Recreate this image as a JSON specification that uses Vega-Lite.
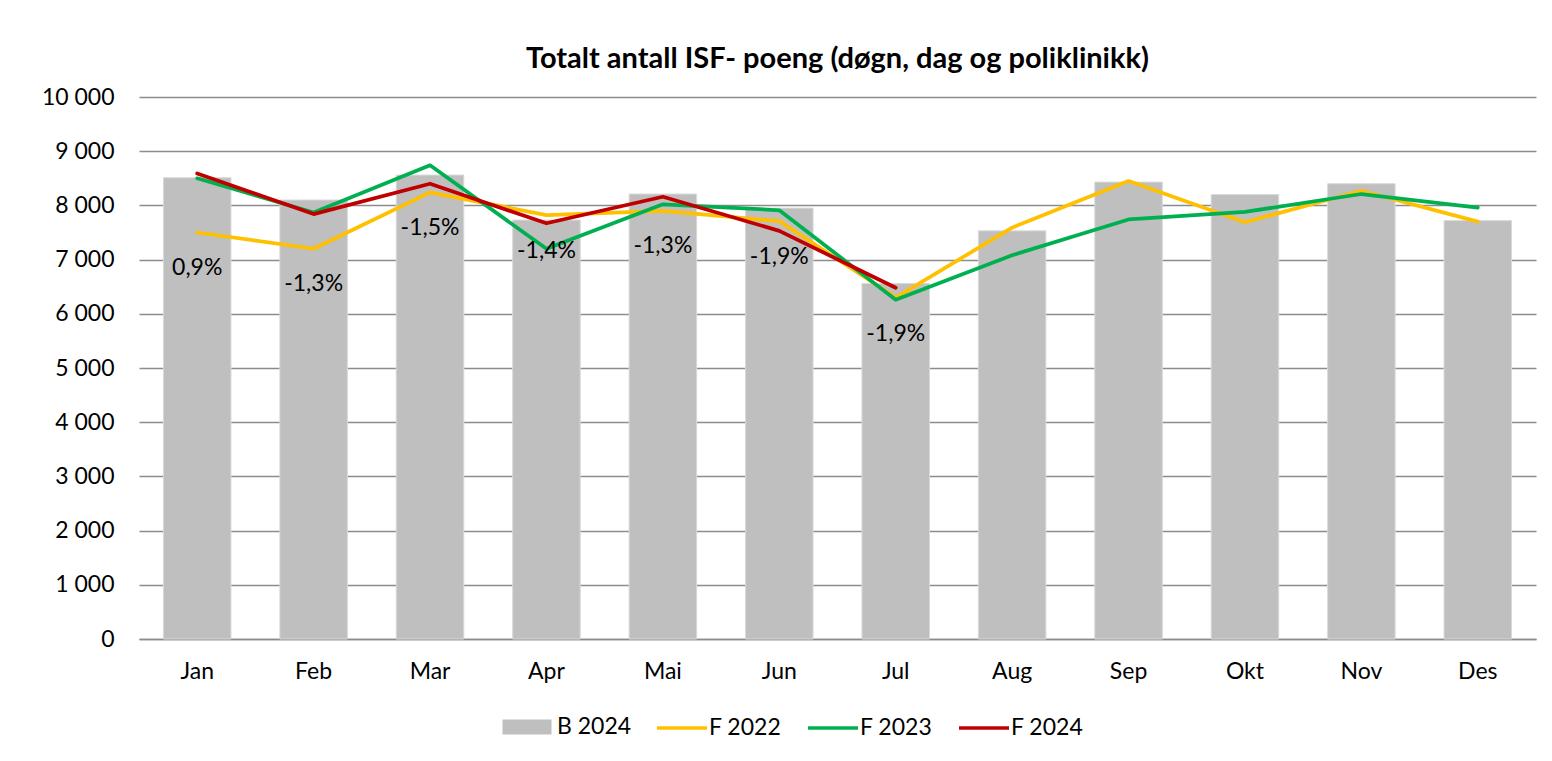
{
  "$schema": "https://vega.github.io/schema/vega-lite/v6.json",
  "autosize": "none",
  "width": 1397,
  "height": 542,
  "padding": {"left": 139, "top": 97, "right": 16, "bottom": 122},
  "background": "white",
  "config": {
    "font": "Lato",
    "view": {"stroke": null},
    "axis": {"labelFont": "Lato", "labelFontSize": 23, "labelColor": "#000"},
    "legend": {"labelFont": "Lato", "labelFontSize": 23, "labelColor": "#000", "padding": 0}
  },
  "title": {
    "text": "Totalt antall ISF- poeng (døgn, dag og poliklinikk)",
    "font": "Lato",
    "fontSize": 29,
    "fontWeight": "bold",
    "color": "#000",
    "anchor": "middle",
    "frame": "group",
    "offset": 12
  },
  "datasets": {
    "bars": [
      {"month": "Jan", "series": "B 2024", "value": 8510},
      {"month": "Feb", "series": "B 2024", "value": 8100},
      {"month": "Mar", "series": "B 2024", "value": 8560},
      {"month": "Apr", "series": "B 2024", "value": 7730},
      {"month": "Mai", "series": "B 2024", "value": 8210},
      {"month": "Jun", "series": "B 2024", "value": 7950},
      {"month": "Jul", "series": "B 2024", "value": 6560},
      {"month": "Aug", "series": "B 2024", "value": 7530},
      {"month": "Sep", "series": "B 2024", "value": 8430},
      {"month": "Okt", "series": "B 2024", "value": 8200},
      {"month": "Nov", "series": "B 2024", "value": 8400},
      {"month": "Des", "series": "B 2024", "value": 7720}
    ],
    "lines": [
      {"month": "Jan", "series": "F 2022", "value": 7500},
      {"month": "Feb", "series": "F 2022", "value": 7200},
      {"month": "Mar", "series": "F 2022", "value": 8240},
      {"month": "Apr", "series": "F 2022", "value": 7820},
      {"month": "Mai", "series": "F 2022", "value": 7900},
      {"month": "Jun", "series": "F 2022", "value": 7710},
      {"month": "Jul", "series": "F 2022", "value": 6300},
      {"month": "Aug", "series": "F 2022", "value": 7590},
      {"month": "Sep", "series": "F 2022", "value": 8450},
      {"month": "Okt", "series": "F 2022", "value": 7690},
      {"month": "Nov", "series": "F 2022", "value": 8270},
      {"month": "Des", "series": "F 2022", "value": 7700},
      {"month": "Jan", "series": "F 2023", "value": 8500},
      {"month": "Feb", "series": "F 2023", "value": 7870},
      {"month": "Mar", "series": "F 2023", "value": 8740},
      {"month": "Apr", "series": "F 2023", "value": 7200},
      {"month": "Mai", "series": "F 2023", "value": 8020},
      {"month": "Jun", "series": "F 2023", "value": 7910},
      {"month": "Jul", "series": "F 2023", "value": 6260},
      {"month": "Aug", "series": "F 2023", "value": 7080},
      {"month": "Sep", "series": "F 2023", "value": 7740},
      {"month": "Okt", "series": "F 2023", "value": 7880},
      {"month": "Nov", "series": "F 2023", "value": 8210},
      {"month": "Des", "series": "F 2023", "value": 7960},
      {"month": "Jan", "series": "F 2024", "value": 8590},
      {"month": "Feb", "series": "F 2024", "value": 7840},
      {"month": "Mar", "series": "F 2024", "value": 8400},
      {"month": "Apr", "series": "F 2024", "value": 7670},
      {"month": "Mai", "series": "F 2024", "value": 8160},
      {"month": "Jun", "series": "F 2024", "value": 7530},
      {"month": "Jul", "series": "F 2024", "value": 6480}
    ],
    "labels": [
      {"month": "Jan", "label": "0,9%", "pos": 6850},
      {"month": "Feb", "label": "-1,3%", "pos": 6550},
      {"month": "Mar", "label": "-1,5%", "pos": 7577},
      {"month": "Apr", "label": "-1,4%", "pos": 7159},
      {"month": "Mai", "label": "-1,3%", "pos": 7251},
      {"month": "Jun", "label": "-1,9%", "pos": 7054},
      {"month": "Jul", "label": "-1,9%", "pos": 5622}
    ]
  },
  "encoding": {
    "x": {
      "field": "month",
      "type": "nominal",
      "sort": ["Jan", "Feb", "Mar", "Apr", "Mai", "Jun", "Jul", "Aug", "Sep", "Okt", "Nov", "Des"],
      "scale": {"paddingInner": 0.42, "paddingOuter": 0.21},
      "axis": {
        "title": null,
        "labelAngle": 0,
        "ticks": false,
        "labelPadding": 21,
        "domainColor": "#8c8c8c",
        "domainWidth": 1.3,
        "grid": false
      }
    }
  },
  "layer": [
    {
      "data": {"name": "bars"},
      "mark": {"type": "bar", "stroke": "#d9d9d9", "strokeWidth": 1},
      "encoding": {
        "y": {
          "field": "value",
          "type": "quantitative",
          "scale": {"domain": [0, 10000], "nice": false},
          "axis": {
            "title": null,
            "values": [0, 1000, 2000, 3000, 4000, 5000, 6000, 7000, 8000, 9000, 10000],
            "labelExpr": "replace(format(datum.value, ','), /,/g, '  ')",
            "domain": false,
            "ticks": false,
            "labelPadding": 25,
            "gridColor": "#8c8c8c",
            "gridWidth": 1.3
          }
        },
        "fill": {
          "field": "series",
          "type": "nominal",
          "scale": {"domain": ["B 2024"], "range": ["#bfbfbf"]},
          "legend": {
            "orient": "none",
            "direction": "horizontal",
            "legendX": 363,
            "legendY": 605,
            "title": null,
            "labelOffset": 5,
            "symbolType": "M-0.98,-0.3H0.98V0.3H-0.98Z",
            "symbolSize": 2500,
            "symbolStrokeWidth": 0,
            "symbolOpacity": 1
          }
        }
      }
    },
    {
      "data": {"name": "lines"},
      "mark": {"type": "line", "strokeWidth": 3.75, "strokeCap": "round", "strokeJoin": "round"},
      "encoding": {
        "y": {"field": "value", "type": "quantitative"},
        "stroke": {
          "field": "series",
          "type": "nominal",
          "scale": {"domain": ["F 2022", "F 2023", "F 2024"], "range": ["#ffc000", "#00b050", "#c00000"]},
          "legend": {
            "orient": "none",
            "direction": "horizontal",
            "legendX": 516,
            "legendY": 604,
            "title": null,
            "labelOffset": 0,
            "columnPadding": 19,
            "symbolType": "stroke",
            "symbolSize": 2500,
            "symbolStrokeWidth": 3.5
          }
        }
      }
    },
    {
      "data": {"name": "labels"},
      "mark": {"type": "text", "font": "Lato", "fontSize": 23, "color": "#000", "baseline": "middle", "align": "center"},
      "encoding": {
        "y": {"field": "pos", "type": "quantitative"},
        "text": {"field": "label"}
      }
    }
  ]
}
